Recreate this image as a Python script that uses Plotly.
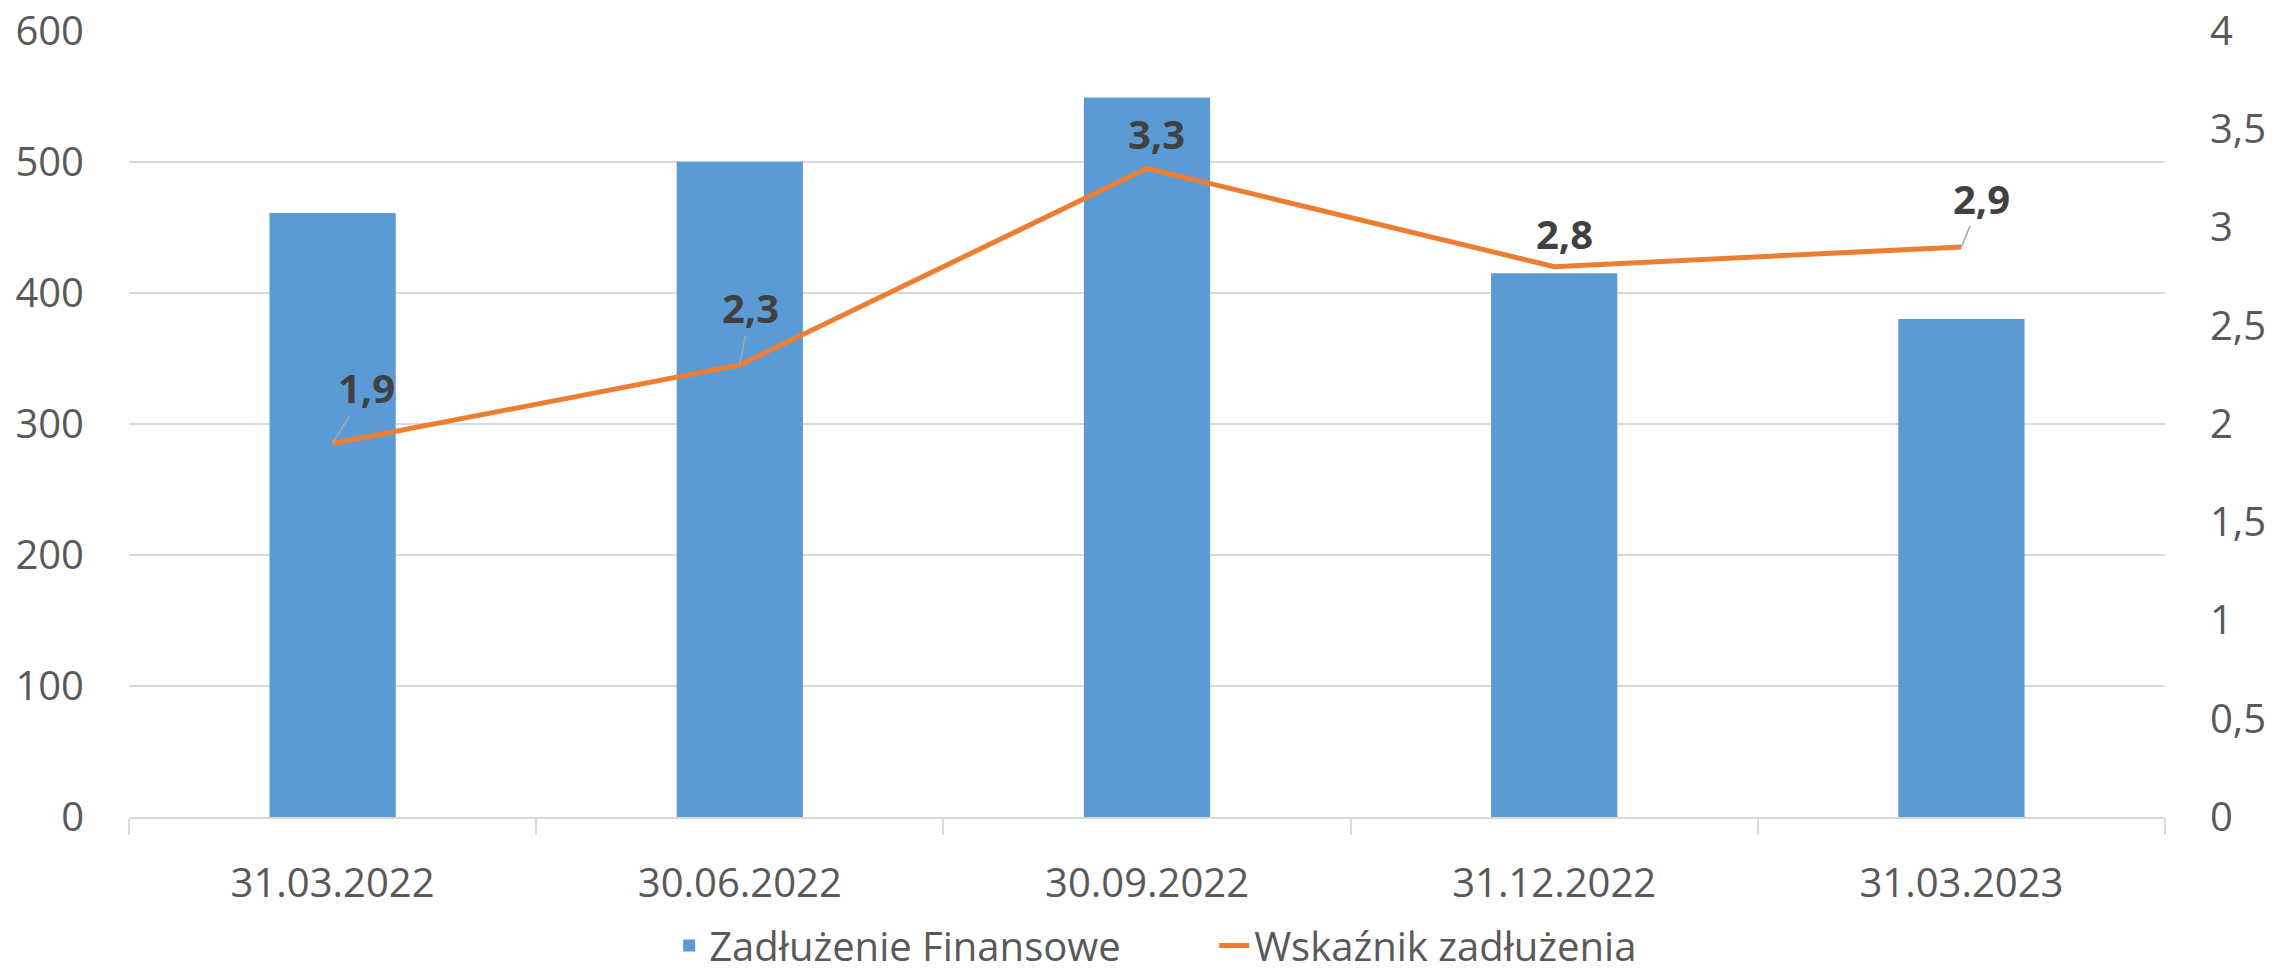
import plotly.graph_objects as go

categories = ["31.03.2022", "30.06.2022", "30.09.2022", "31.12.2022", "31.03.2023"]
debt = [461, 500, 549, 415, 380]
ratio = [1.9, 2.3, 3.3, 2.8, 2.9]
left_ticks = [0, 100, 200, 300, 400, 500, 600]
right_ticks = [0, 0.5, 1, 1.5, 2, 2.5, 3, 3.5, 4]

# label placement (pixel offsets of the data-label centre from its point)
label_dx = [34, 11, 9, 10, 20]
label_dy = [-56, -57, -35, -33, -49]
label_leader = [True, True, False, False, True]

FONT = "Open Sans"
TICK_COLOR = "#595959"

fig = go.Figure()
fig.add_trace(go.Bar(
    x=categories, y=debt, name="Zadłużenie Finansowe",
    marker=dict(color="#5B9BD5", line=dict(width=0)),
    yaxis="y",
))
fig.add_trace(go.Scatter(
    x=categories, y=ratio, name="Wskaźnik zadłużenia",
    mode="lines", line=dict(color="#ED7D31", width=5),
    yaxis="y2",
))

annotations = []
for c, v, dx, dy, lead in zip(categories, ratio, label_dx, label_dy, label_leader):
    annotations.append(dict(
        x=c, y=v, xref="x", yref="y2",
        text=f"{v:.1f}".replace(".", ","),
        showarrow=True, ax=dx, ay=dy,
        arrowhead=0, arrowwidth=1.5, standoff=0,
        arrowcolor="#a6a6a6" if lead else "rgba(0,0,0,0)",
        font=dict(family=FONT, size=40, color="#404040", weight="bold"),
        borderpad=0,
    ))

fig.update_layout(
    width=2272, height=978,
    margin=dict(l=129, r=107, t=30, b=161, autoexpand=False),
    paper_bgcolor="white", plot_bgcolor="white",
    separators=", ",
    bargap=0.69,
    font=dict(family=FONT, size=40, color=TICK_COLOR),
    showlegend=True,
    legend=dict(
        orientation="h", x=0.533, xanchor="center",
        yref="container", y=-0.009, yanchor="bottom",
        font=dict(family=FONT, size=40, color=TICK_COLOR),
        itemwidth=30, traceorder="normal",
        entrywidth=500, bgcolor="rgba(0,0,0,0)",
    ),
    xaxis=dict(
        type="category", tickson="boundaries",
        ticks="outside", ticklen=16, tickwidth=1.5, tickcolor="#d9d9d9",
        showline=True, linecolor="#d9d9d9", linewidth=2,
        showgrid=False, ticklabelstandoff=30,
        tickfont=dict(family=FONT, size=40, color=TICK_COLOR),
    ),
    yaxis=dict(
        range=[0, 600.6], tickvals=left_ticks,
        showgrid=True, gridcolor="#d9d9d9", gridwidth=2,
        zeroline=False, showline=False, ticks="",
        ticklabelstandoff=44,
        tickfont=dict(family=FONT, size=40, color=TICK_COLOR),
    ),
    yaxis2=dict(
        range=[0, 4.004], tickvals=right_ticks, overlaying="y", side="right",
        showgrid=False, zeroline=False, showline=False, ticks="",
        ticklabelstandoff=44,
        tickfont=dict(family=FONT, size=40, color=TICK_COLOR),
    ),
    annotations=annotations,
)

fig.write_html(
    "out.html",
    config={"displayModeBar": False},
    post_script="document.body.style.margin='0';document.body.style.overflow='hidden';",
)
